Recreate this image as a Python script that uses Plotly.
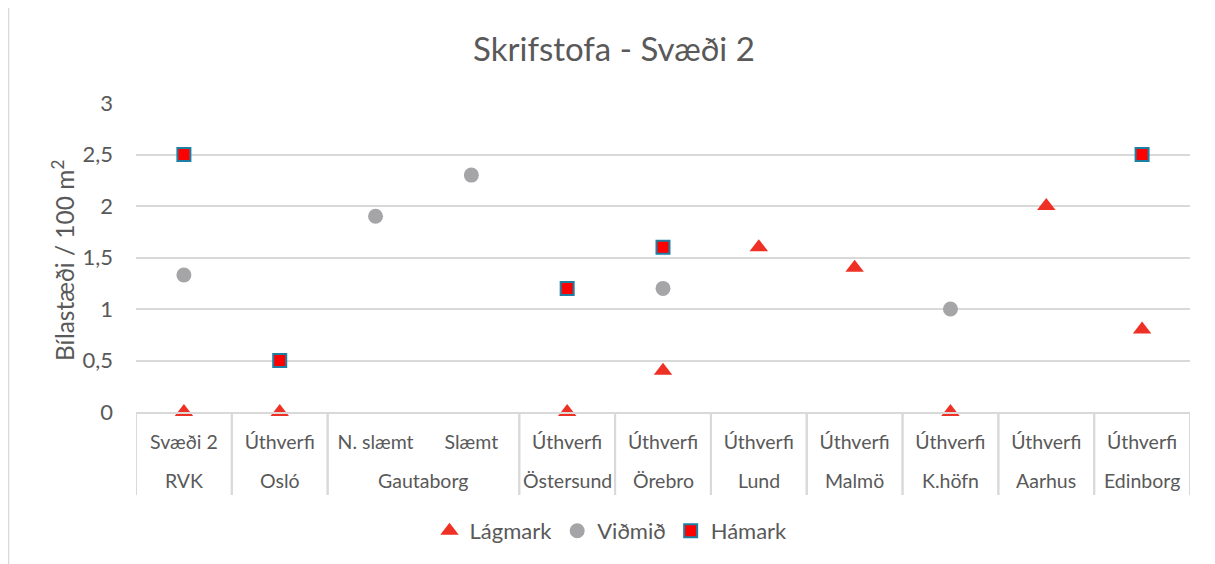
import plotly.graph_objects as go

inner = ["Svæði 2", "Úthverfi", "N. slæmt", "Slæmt", "Úthverfi", "Úthverfi",
         "Úthverfi", "Úthverfi", "Úthverfi", "Úthverfi", "Úthverfi"]
outer = ["RVK", "Osló", "Gautaborg", "Gautaborg", "Östersund", "Örebro",
         "Lund", "Malmö", "K.höfn", "Aarhus", "Edinborg"]

lagmark = [0, 0, None, None, 0, 0.4, 1.6, 1.4, 0, 2.0, 0.8]
vidmid = [1.33, None, 1.9, 2.3, None, 1.2, None, None, 1.0, None, None]
hamark = [2.5, 0.5, None, None, 1.2, 1.6, None, None, None, None, 2.5]

yticks = [0, 0.5, 1, 1.5, 2, 2.5, 3]
ytick_text = ["0", "0,5", "1", "1,5", "2", "2,5", "3"]

FONT = "Lato"
GREY = "#595959"
LINE = "#d9d9d9"

keys = [f"{o} | {i}" for o, i in zip(outer, inner)]

OFF = 8  # page body margin
W, H = 1215 - OFF, 564 - OFF
L, T = 136 - OFF, 103 - OFF
R = W - (1190 - OFF)
B = H - (412 - OFF)
pw, ph = W - L - R, H - T - B

fig = go.Figure()
common = dict(x=keys, mode="markers", cliponaxis=False)
fig.add_trace(go.Scatter(y=lagmark, name="Lágmark", **common,
                         marker=dict(symbol="triangle-up", size=16, color="#ee3124",
                                     line=dict(width=0))))
fig.add_trace(go.Scatter(y=vidmid, name="Viðmið", **common,
                         marker=dict(symbol="circle", size=15, color="#a5a5a8",
                                     line=dict(width=0))))
fig.add_trace(go.Scatter(y=hamark, name="Hámark", **common,
                         marker=dict(symbol="square", size=13, color="#ff0000",
                                     line=dict(width=2, color="#1f7fa3"))))

# outer group labels and dividers
groups = []
for idx, o in enumerate(outer):
    if groups and groups[-1][0] == o:
        groups[-1][2] = idx
    else:
        groups.append([o, idx, idx])

annotations = []
shapes = []
div_bottom = -(495 - 412) / ph
for o, a, b in groups:
    annotations.append(dict(text=o, x=(a + b) / 2, xref="x", y=-(481 - 412) / ph,
                            yref="paper", showarrow=False, xanchor="center",
                            yanchor="middle",
                            font=dict(size=19.5, color=GREY, family=FONT)))
    for bx in (a - 0.5, b + 0.5):
        shapes.append(dict(type="line", xref="x", yref="paper", x0=bx, x1=bx,
                           y0=0, y1=div_bottom, line=dict(color=LINE, width=2)))

# y-axis title
annotations.append(dict(text="Bílastæði / 100 m<sup>2</sup>", textangle=-90,
                        x=(63 - 136) / pw, xref="paper", xanchor="center",
                        y=(412 - 261) / ph, yref="paper", yanchor="middle",
                        showarrow=False,
                        font=dict(size=24.5, color=GREY, family=FONT)))

shapes.append(dict(type="rect", xref="paper", yref="paper",
                   x0=(8.5 - 136) / pw, x1=(1230 - 136) / pw,
                   y0=(412 - 580) / ph, y1=(412 - 5.5) / ph,
                   line=dict(color=LINE, width=1.5), layer="below"))

fig.update_layout(
    width=W, height=H,
    margin=dict(l=L, r=R, t=T, b=B, autoexpand=False),
    paper_bgcolor="white", plot_bgcolor="white",
    font=dict(family=FONT, color=GREY, size=16),
    title=dict(text="Skrifstofa - Svæði 2", x=(614 - OFF) / W, xanchor="center",
               y=1 - (49 - OFF) / H, yanchor="middle",
               font=dict(size=33, color=GREY, family=FONT)),
    xaxis=dict(type="category", showgrid=False, showline=True,
               linecolor=LINE, linewidth=2, ticks="", automargin=False,
               tickvals=keys, ticktext=inner, range=[-0.5, len(keys) - 0.5],
               ticklabelstandoff=12,
               tickfont=dict(size=19.5, color=GREY, family=FONT)),
    yaxis=dict(range=[0, 3], tickvals=yticks, ticktext=ytick_text,
               showgrid=True, gridcolor=LINE, gridwidth=1.5, automargin=False,
               zeroline=False, showline=False, ticks="",
               ticklabelstandoff=22,
               tickfont=dict(size=22, color=GREY, family=FONT)),
    legend=dict(orientation="h", x=(611 - OFF) / W, xanchor="center", xref="container",
                y=1 - (531 - OFF) / H, yanchor="middle", yref="container",
                font=dict(size=22, color=GREY, family=FONT),
                itemwidth=30, tracegroupgap=0),
    showlegend=True,
    annotations=annotations,
    shapes=shapes,
)

fig.write_html("out.html")
